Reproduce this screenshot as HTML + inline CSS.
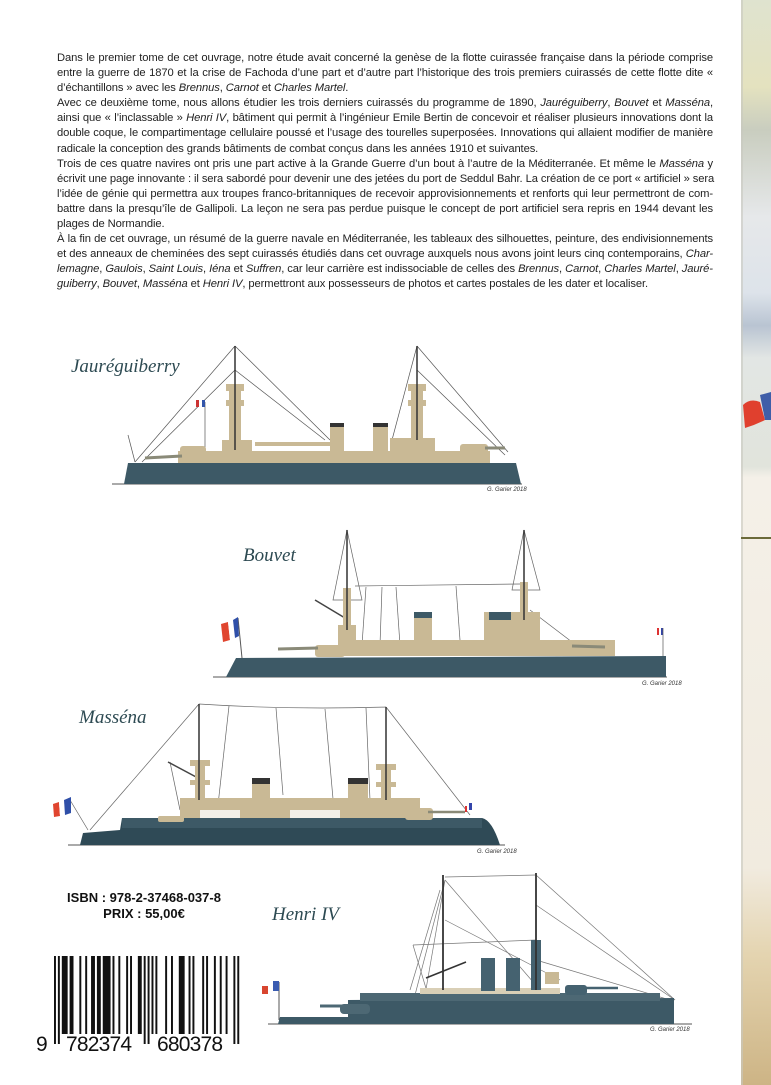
<!DOCTYPE html>
<html><head><meta charset="utf-8">
<style>
html,body{margin:0;padding:0;background:#fff;}
body{width:771px;height:1085px;position:relative;overflow:hidden;font-family:"Liberation Sans",Arial,sans-serif;}
#txt{position:absolute;left:57px;top:51px;width:656px;font-size:11.2px;line-height:15.1px;color:#222;letter-spacing:-0.1px;}
#txt div{white-space:nowrap;text-align:justify;text-align-last:justify;}
#txt div.l{text-align-last:left;}
.t{position:absolute;font-family:"Liberation Serif",serif;font-style:italic;color:#2d4a52;font-size:19px;}
.cr{position:absolute;font-size:6px;font-style:italic;color:#333;}
#isbn{position:absolute;left:58px;top:890px;width:172px;text-align:center;font-weight:bold;font-size:13px;line-height:16px;color:#111;}
svg{position:absolute;left:0;top:0;}
</style></head><body>
<div id="txt">
<div>Dans le premier tome de cet ouvrage, notre étude avait concerné la genèse de la flotte cuirassée française dans la période comprise</div>
<div>entre la guerre de 1870 et la crise de Fachoda d’une part et d’autre part l’historique des trois premiers cuirassés de cette flotte dite «</div>
<div class="l">d’échantillons » avec les <i>Brennus</i>, <i>Carnot</i> et <i>Charles Martel</i>.</div>
<div>Avec ce deuxième tome, nous allons étudier les trois derniers cuirassés du programme de 1890, <i>Jauréguiberry</i>, <i>Bouvet</i> et <i>Masséna</i>,</div>
<div>ainsi que « l’inclassable » <i>Henri IV</i>, bâtiment qui permit à l’ingénieur Emile Bertin de concevoir et réaliser plusieurs innovations dont la</div>
<div>double coque, le compartimentage cellulaire poussé et l’usage des tourelles superposées. Innovations qui allaient modifier de manière</div>
<div class="l">radicale la conception des grands bâtiments de combat conçus dans les années 1910 et suivantes.</div>
<div>Trois de ces quatre navires ont pris une part active à la Grande Guerre d’un bout à l’autre de la Méditerranée. Et même le <i>Masséna</i> y</div>
<div>écrivit une page innovante : il sera sabordé pour devenir une des jetées du port de Seddul Bahr. La création de ce port « artificiel » sera</div>
<div>l’idée de génie qui permettra aux troupes franco-britanniques de recevoir approvisionnements et renforts qui leur permettront de com-</div>
<div>battre dans la presqu’île de Gallipoli. La leçon ne sera pas perdue puisque le concept de port artificiel sera repris en 1944 devant les</div>
<div class="l">plages de Normandie.</div>
<div>À la fin de cet ouvrage, un résumé de la guerre navale en Méditerranée, les tableaux des silhouettes, peinture, des endivisionnements</div>
<div>et des anneaux de cheminées des sept cuirassés étudiés dans cet ouvrage auxquels nous avons joint leurs cinq contemporains, <i>Char-</i></div>
<div><i>lemagne</i>, <i>Gaulois</i>, <i>Saint Louis</i>, <i>Iéna</i> et <i>Suffren</i>, car leur carrière est indissociable de celles des <i>Brennus</i>, <i>Carnot</i>, <i>Charles Martel</i>, <i>Jauré-</i></div>
<div class="l"><i>guiberry</i>, <i>Bouvet</i>, <i>Masséna</i> et <i>Henri IV</i>, permettront aux possesseurs de photos et cartes postales de les dater et localiser.</div>
</div>

<svg width="771" height="1085" viewBox="0 0 771 1085">
<defs>
<linearGradient id="strip" x1="0" y1="0" x2="0" y2="1">
<stop offset="0" stop-color="#dfe3cf"/><stop offset="0.08" stop-color="#e4e2bf"/><stop offset="0.12" stop-color="#c9cdbf"/>
<stop offset="0.2" stop-color="#e6e8ea"/><stop offset="0.27" stop-color="#dde3ea"/><stop offset="0.3" stop-color="#b9c4d2"/>
<stop offset="0.33" stop-color="#e2e6e4"/><stop offset="0.43" stop-color="#e1e4dc"/><stop offset="0.44" stop-color="#f4f0e8"/>
<stop offset="0.8" stop-color="#f1ebdf"/><stop offset="0.88" stop-color="#e4d4b0"/><stop offset="1" stop-color="#cdb485"/>
</linearGradient>
</defs>
<rect x="741" y="0" width="30" height="1085" fill="url(#strip)"/>
<rect x="741" y="0" width="2" height="1085" fill="#c8c8c0" opacity="0.6"/>
<path d="M743 405 Q750 398 760 402 L765 420 Q755 425 745 428 Z" fill="#e0402e"/>
<path d="M760 395 L771 392 L771 420 L765 420 Z" fill="#3f5ea8"/>
<rect x="741" y="537" width="30" height="2" fill="#6b6a3a"/>

<!-- JAUREGUIBERRY -->
<g stroke="#555" stroke-width="0.7" fill="none">
<line x1="235" y1="346" x2="135" y2="462"/><line x1="235" y1="346" x2="330" y2="440"/>
<line x1="235" y1="370" x2="142" y2="462"/><line x1="235" y1="370" x2="325" y2="440"/>
<line x1="417" y1="346" x2="508" y2="452"/><line x1="417" y1="346" x2="392" y2="440"/>
<line x1="417" y1="370" x2="505" y2="455"/><line x1="205" y1="402" x2="205" y2="462"/>
<line x1="128" y1="435" x2="135" y2="462"/>
</g>
<line x1="112" y1="484" x2="522" y2="484" stroke="#555" stroke-width="1"/>
<path d="M124 484 L128 463 L516 463 L521 484 Z" fill="#3d5966"/>
<g fill="#c9b995">
<rect x="178" y="451" width="312" height="12"/>
<rect x="180" y="446" width="26" height="12" rx="3"/>
<rect x="460" y="444" width="28" height="14" rx="3"/>
<rect x="222" y="440" width="30" height="12"/>
<rect x="390" y="438" width="45" height="14"/>
<rect x="229" y="385" width="12" height="58"/><rect x="226" y="384" width="18" height="7"/><rect x="226" y="400" width="18" height="6"/>
<rect x="411" y="385" width="12" height="55"/><rect x="408" y="384" width="18" height="7"/><rect x="408" y="400" width="18" height="6"/>
<rect x="330" y="423" width="14" height="30"/><rect x="373" y="423" width="15" height="30"/>
<rect x="255" y="442" width="80" height="4"/>
</g>
<rect x="330" y="423" width="14" height="4" fill="#333"/><rect x="373" y="423" width="15" height="4" fill="#333"/>
<line x1="145" y1="458" x2="182" y2="456" stroke="#8a8a78" stroke-width="3"/>
<line x1="485" y1="448" x2="505" y2="448" stroke="#8a8a78" stroke-width="3"/>
<line x1="235" y1="346" x2="235" y2="450" stroke="#333" stroke-width="1.5"/>
<line x1="417" y1="346" x2="417" y2="440" stroke="#333" stroke-width="1.5"/>
<rect x="196" y="400" width="3" height="7" fill="#c33"/><rect x="199" y="400" width="3" height="7" fill="#fff"/><rect x="202" y="400" width="3" height="7" fill="#35a"/>

<!-- BOUVET -->
<g stroke="#666" stroke-width="0.7" fill="none">
<line x1="355" y1="586" x2="520" y2="584"/>
<line x1="366" y1="587" x2="362" y2="645"/><line x1="382" y1="587" x2="380" y2="645"/><line x1="396" y1="587" x2="400" y2="645"/><line x1="456" y1="586" x2="460" y2="640"/>
<path d="M347 530 L333 600 L362 600 Z"/><path d="M524 530 L512 590 L540 590 Z"/>
<line x1="530" y1="610" x2="572" y2="642"/>
</g>
<line x1="315" y1="600" x2="345" y2="618" stroke="#444" stroke-width="1.5"/>
<line x1="213" y1="677" x2="667" y2="677" stroke="#555" stroke-width="1"/>
<path d="M226 677 L236 658 L666 656 L666 677 Z" fill="#3d5966"/>
<g fill="#c9b995">
<rect x="340" y="640" width="275" height="16"/>
<rect x="315" y="645" width="30" height="12" rx="3"/><rect x="545" y="641" width="30" height="14" rx="3"/>
<rect x="338" y="625" width="18" height="20"/><rect x="512" y="612" width="28" height="30"/>
<rect x="484" y="612" width="28" height="30"/>
<rect x="414" y="612" width="18" height="32"/>
<rect x="343" y="588" width="8" height="40"/><rect x="520" y="582" width="8" height="32"/>
</g>
<rect x="414" y="612" width="18" height="6" fill="#3d5966"/><rect x="489" y="612" width="22" height="8" fill="#3d5966"/>
<line x1="278" y1="649" x2="318" y2="648" stroke="#8a8a78" stroke-width="3"/>
<line x1="572" y1="646" x2="605" y2="647" stroke="#8a8a78" stroke-width="3"/>
<line x1="347" y1="530" x2="347" y2="630" stroke="#333" stroke-width="1.5"/>
<line x1="524" y1="530" x2="524" y2="620" stroke="#333" stroke-width="1.5"/>
<line x1="238" y1="618" x2="242" y2="658" stroke="#555" stroke-width="1"/>
<path d="M221 624 L228 622 L230 640 L223 642 Z" fill="#e0452f"/><path d="M228 622 L233 620 L235 638 L230 640 Z" fill="#fff"/><path d="M233 620 L238 617 L239 636 L235 638 Z" fill="#2f4fa8"/>
<rect x="657" y="628" width="2" height="7" fill="#d33"/><rect x="659" y="628" width="2" height="7" fill="#fff"/><rect x="661" y="628" width="2" height="7" fill="#34a"/>
<line x1="663" y1="628" x2="663" y2="656" stroke="#555" stroke-width="0.7"/>

<!-- MASSENA -->
<g stroke="#666" stroke-width="0.7" fill="none">
<path d="M199 704 Q290 710 386 707"/>
<line x1="199" y1="704" x2="90" y2="830"/><line x1="386" y1="707" x2="470" y2="815"/>
<line x1="229" y1="706" x2="218" y2="805"/><line x1="276" y1="708" x2="283" y2="795"/><line x1="325" y1="709" x2="334" y2="810"/><line x1="366" y1="708" x2="370" y2="800"/>
<line x1="170" y1="762" x2="180" y2="810"/><line x1="70" y1="800" x2="88" y2="830"/>
</g>
<line x1="168" y1="762" x2="198" y2="778" stroke="#444" stroke-width="1.5"/>
<line x1="68" y1="845" x2="505" y2="845" stroke="#555" stroke-width="1"/>
<path d="M80 845 L83 833 L120 830 L122 818 L482 818 Q492 820 500 845 Z" fill="#2f4a56"/>
<rect x="122" y="818" width="360" height="10" fill="#3d5966"/>
<g fill="#c9b995">
<rect x="180" y="798" width="240" height="20"/>
<rect x="195" y="762" width="10" height="40"/><rect x="190" y="760" width="20" height="6"/><rect x="190" y="780" width="20" height="5"/>
<rect x="381" y="766" width="10" height="40"/><rect x="376" y="764" width="20" height="6"/><rect x="376" y="782" width="20" height="5"/>
<rect x="252" y="778" width="18" height="32"/><rect x="348" y="778" width="20" height="32"/>
<rect x="405" y="808" width="28" height="12" rx="3"/><rect x="158" y="816" width="26" height="6" rx="2"/>
</g>
<rect x="252" y="778" width="18" height="6" fill="#333"/><rect x="348" y="778" width="20" height="6" fill="#333"/>
<rect x="200" y="810" width="40" height="8" fill="#f2efe8"/><rect x="290" y="810" width="50" height="8" fill="#f2efe8"/>
<line x1="199" y1="704" x2="199" y2="800" stroke="#333" stroke-width="1.5"/>
<line x1="386" y1="707" x2="386" y2="800" stroke="#333" stroke-width="1.5"/>
<line x1="428" y1="812" x2="465" y2="812" stroke="#8a8a78" stroke-width="2.5"/>
<path d="M53 804 L59 802 L60 816 L54 817 Z" fill="#e0452f"/><path d="M59 802 L64 800 L65 815 L60 816 Z" fill="#fff"/><path d="M64 800 L71 797 L71 813 L65 815 Z" fill="#2f4fa8"/>
<rect x="465" y="806" width="2" height="6" fill="#d33"/><rect x="467" y="805" width="2" height="6" fill="#fff"/><rect x="469" y="803" width="3" height="7" fill="#34a"/>

<!-- HENRI IV -->
<g stroke="#777" stroke-width="0.7" fill="none">
<line x1="445" y1="877" x2="536" y2="875"/>
<line x1="445" y1="880" x2="415" y2="995"/><line x1="445" y1="880" x2="425" y2="995"/><line x1="440" y1="890" x2="410" y2="990"/>
<line x1="445" y1="880" x2="540" y2="990"/><line x1="445" y1="920" x2="560" y2="980"/>
<line x1="536" y1="875" x2="675" y2="1000"/><line x1="536" y1="905" x2="675" y2="1000"/><line x1="536" y1="960" x2="670" y2="1000"/>
<line x1="413" y1="945" x2="536" y2="940"/><line x1="413" y1="945" x2="428" y2="995"/>
</g>
<line x1="268" y1="1024" x2="692" y2="1024" stroke="#555" stroke-width="1"/>
<path d="M278 1024 L280 1017 L348 1017 L348 1000 L674 998 L674 1024 Z" fill="#3d5966"/>
<rect x="340" y="1004" width="30" height="10" rx="4" fill="#4d6874"/>
<line x1="320" y1="1006" x2="342" y2="1006" stroke="#4d6874" stroke-width="3"/>
<rect x="360" y="993" width="300" height="8" fill="#4d6874"/>
<rect x="420" y="988" width="140" height="6" fill="#d9cfb6"/>
<rect x="481" y="958" width="14" height="33" fill="#456270"/><rect x="506" y="958" width="14" height="33" fill="#456270"/>
<rect x="565" y="985" width="22" height="10" rx="3" fill="#456270"/>
<line x1="585" y1="988" x2="618" y2="988" stroke="#456270" stroke-width="2.5"/>
<rect x="531" y="940" width="10" height="50" fill="#456270"/>
<rect x="545" y="972" width="14" height="12" fill="#c9b995"/>
<line x1="443" y1="875" x2="443" y2="990" stroke="#333" stroke-width="1.8"/>
<line x1="536" y1="873" x2="536" y2="990" stroke="#333" stroke-width="1.8"/>
<line x1="426" y1="978" x2="466" y2="962" stroke="#333" stroke-width="1.5"/>
<line x1="279" y1="982" x2="279" y2="1020" stroke="#555" stroke-width="1"/>
<rect x="262" y="986" width="6" height="8" fill="#d8452f"/><rect x="268" y="986" width="5" height="8" fill="#fff"/><rect x="273" y="981" width="6" height="10" fill="#3a5bb0"/>

<!-- BARCODE -->
<g transform="translate(54,956) scale(1.95,1)" fill="#111">
<rect x="0" y="0" width="1" height="88"/><rect x="2" y="0" width="1" height="88"/>
<rect x="4" y="0" width="3" height="78"/><rect x="8" y="0" width="2" height="78"/><rect x="13" y="0" width="1" height="78"/><rect x="16" y="0" width="1" height="78"/>
<rect x="19" y="0" width="2" height="78"/><rect x="22" y="0" width="2" height="78"/><rect x="25" y="0" width="4" height="78"/><rect x="30" y="0" width="1" height="78"/>
<rect x="33" y="0" width="1" height="78"/><rect x="37" y="0" width="1" height="78"/><rect x="39" y="0" width="1" height="78"/><rect x="43" y="0" width="2" height="78"/>
<rect x="46" y="0" width="1" height="88"/><rect x="48" y="0" width="1" height="88"/>
<rect x="50" y="0" width="1" height="78"/><rect x="52" y="0" width="1" height="78"/><rect x="57" y="0" width="1" height="78"/><rect x="60" y="0" width="1" height="78"/>
<rect x="64" y="0" width="3" height="78"/><rect x="69" y="0" width="1" height="78"/><rect x="71" y="0" width="1" height="78"/><rect x="76" y="0" width="1" height="78"/>
<rect x="78" y="0" width="1" height="78"/><rect x="82" y="0" width="1" height="78"/><rect x="85" y="0" width="1" height="78"/><rect x="88" y="0" width="1" height="78"/>
<rect x="92" y="0" width="1" height="88"/><rect x="94" y="0" width="1" height="88"/>
</g>
<g font-family="Liberation Sans, Arial, sans-serif" font-size="21" fill="#111">
<text x="36" y="1051">9</text>
<text x="66" y="1051" textLength="66">782374</text>
<text x="157" y="1051" textLength="66">680378</text>
</g>
</svg>

<div class="t" style="left:71px;top:356px;">Jauréguiberry</div>
<div class="t" style="left:243px;top:545px;">Bouvet</div>
<div class="t" style="left:79px;top:707px;">Masséna</div>
<div class="t" style="left:272px;top:904px;">Henri IV</div>
<div class="cr" style="left:487px;top:487px;">G. Garier 2018</div>
<div class="cr" style="left:642px;top:681px;">G. Garier 2018</div>
<div class="cr" style="left:477px;top:849px;">G. Garier 2018</div>
<div class="cr" style="left:650px;top:1027px;">G. Garier 2018</div>
<div id="isbn">ISBN : 978-2-37468-037-8<br>PRIX : 55,00€</div>
</body></html>
